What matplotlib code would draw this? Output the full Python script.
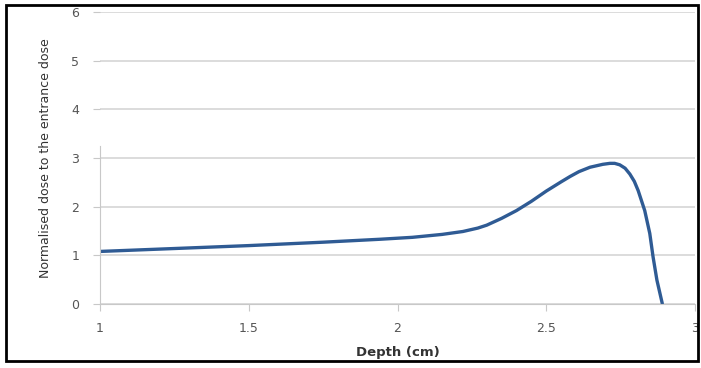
import numpy as np
import matplotlib.pyplot as plt
from matplotlib.patches import Rectangle

# depth (cm) vs normalised dose
depth = [1.0, 1.25, 1.5, 1.75, 1.94, 2.05, 2.15, 2.22, 2.27, 2.3, 2.35, 2.4, 2.45,
         2.5, 2.55, 2.58, 2.61, 2.647, 2.69, 2.714, 2.73, 2.747, 2.765, 2.781, 2.796,
         2.809, 2.831, 2.848, 2.859, 2.872, 2.89]
dose = [1.08, 1.14, 1.2, 1.27, 1.33, 1.37, 1.43, 1.49, 1.56, 1.62, 1.76, 1.92, 2.11,
        2.32, 2.51, 2.62, 2.72, 2.81, 2.87, 2.89, 2.89, 2.86, 2.79, 2.67, 2.52,
        2.33, 1.92, 1.45, 0.97, 0.49, 0.01]

xticks = [1, 1.5, 2, 2.5, 3]
yticks = [0, 1, 2, 3, 4, 5, 6]

fig = plt.figure(figsize=(7.01, 3.68), dpi=100)
ax = fig.add_axes([100/701, 1 - 304/368, 595/701, 292/368])

ax.plot(depth, dose, color='#2f5b94', lw=2.4, solid_capstyle='round', solid_joinstyle='round')

ax.set_xlim(1, 3)
ax.set_ylim(0, 6)
ax.set_xticks(xticks)
ax.set_xticklabels(['1', '1.5', '2', '2.5', '3'])
ax.set_yticks(yticks)
ax.yaxis.grid(True, color='#d9d9d9', lw=1.3)
ax.set_axisbelow(True)

for s in ['top', 'right']:
    ax.spines[s].set_visible(False)
ax.spines['bottom'].set_color('#c8c8c8')
ax.spines['left'].set_color('#c8c8c8')
ax.spines['left'].set_bounds(0, 3.25)
ax.tick_params(axis='both', colors='#c8c8c8', labelcolor='#555555', labelsize=9, length=5)
ax.tick_params(axis='x', pad=8)
ax.tick_params(axis='y', pad=10)

ax.set_xlabel('Depth (cm)', fontsize=9.5, fontweight='bold', color='#333333', labelpad=8)
ax.set_ylabel('Normalised dose to the entrance dose', fontsize=9, color='#333333',
              labelpad=14)

fig.patches.append(Rectangle((6/701, 1 - 361/368), 692/701, 356/368, transform=fig.transFigure,
                             fill=False, edgecolor='black', lw=2))

fig.savefig('out.png', dpi=100)
